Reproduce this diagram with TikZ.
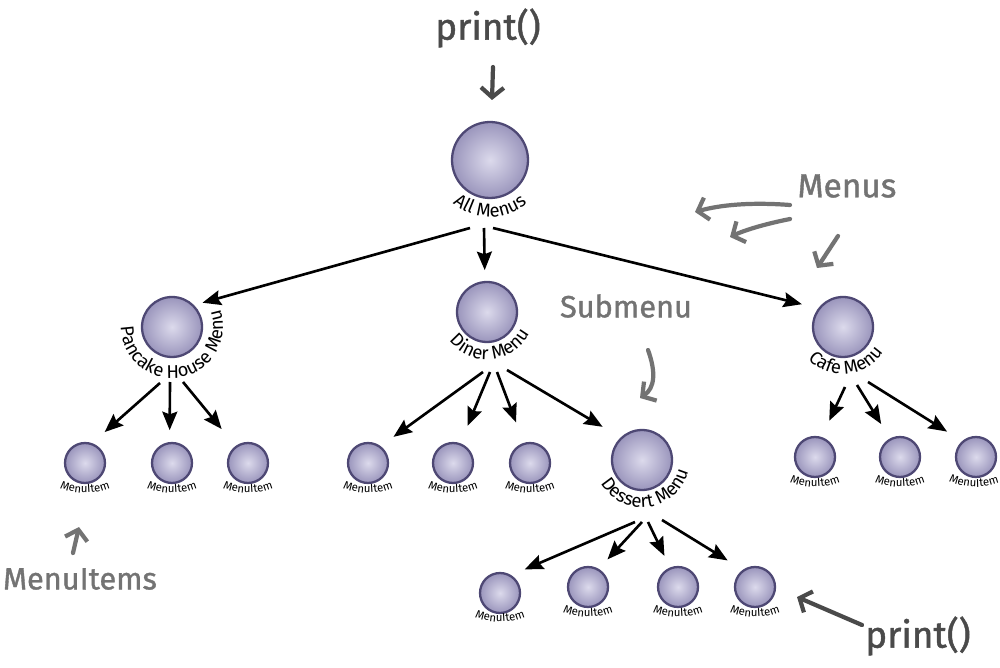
\documentclass[tikz,border=0pt]{standalone}
\usepackage{fontspec}
\setmainfont{Fira Sans}
\newfontfamily\annofont[FakeBold=1.2]{Fira Sans}
\usetikzlibrary{arrows.meta,calc,decorations.text}
\definecolor{ballin}{HTML}{DCDAEC}
\definecolor{ballout}{HTML}{9A95BC}
\definecolor{ballrim}{HTML}{4E4874}
\definecolor{anno}{HTML}{737373}
\definecolor{annodark}{HTML}{4A4A4A}
\tikzset{
 menuball/.style={circle, inner sep=0pt, outer sep=0pt, minimum size=#1, inner color=ballin, outer color=ballout, draw=ballrim, line width=1.3pt},
 bigball/.style={menuball=1.52cm},
 midball/.style={menuball=1.2cm},
 itemball/.style={menuball=0.8cm},
 link/.style={line width=1.5pt, -{Stealth[length=10.5pt,width=8.5pt,inset=1.5pt]}},
 note/.style={text=anno, inner sep=0pt},
 callout/.style={draw=anno, line width=2.4pt, line cap=round, -{Straight Barb[length=5.5pt,width=13pt]}},
}
% curved label: node, centre offset (up), radius, start angle, end angle, font, text
\newcommand\clab[7]{\path[decorate,decoration={text along path,text align=center,text={|#6|#7}}] ($(#1)+(0,#2)$) ++(#4:#3) arc[start angle=#4,end angle=#5,radius=#3];}
\newcommand\menufont{\fontsize{10.5}{12}\selectfont}
\newcommand\itemfont{\fontsize{6.5}{8}\selectfont}
\begin{document}
\begin{tikzpicture}[x=0.02cm,y=-0.02cm]
\fill[white] (0,0) rectangle (1000,668);
\useasboundingbox (0,0) rectangle (1000,668);

% menu nodes
\node[bigball] (all) at (490,160) {};
\node[midball] (pancake) at (172,327) {};
\node[midball] (diner) at (487,312) {};
\node[midball] (cafe) at (843,327) {};
\node[midball] (dessert) at (642,460) {};
% menu items
\node[itemball] (p1) at (85,463) {};
\node[itemball] (p2) at (172,463) {};
\node[itemball] (p3) at (248,463) {};
\node[itemball] (d1) at (368,463) {};
\node[itemball] (d2) at (453,463) {};
\node[itemball] (d3) at (530,463) {};
\node[itemball] (c1) at (815,457) {};
\node[itemball] (c2) at (900,457) {};
\node[itemball] (c3) at (976,457) {};
\node[itemball] (s1) at (500,593) {};
\node[itemball] (s2) at (588,587) {};
\node[itemball] (s3) at (678,587) {};
\node[itemball] (s4) at (755,587) {};

% curved labels
\clab{all}{0cm}{1.14cm}{215}{325}{\menufont}{All Menus}
\clab{pancake}{0cm}{1.02cm}{175}{385}{\menufont}{Pancake House Menu}
\clab{diner}{0cm}{0.95cm}{195}{355}{\menufont}{Diner Menu}
\clab{cafe}{0cm}{0.95cm}{195}{355}{\menufont}{Cafe Menu}
\clab{dessert}{0cm}{0.95cm}{190}{366}{\menufont}{Dessert Menu}
\foreach \n in {p1,p2,p3,d1,d2,d3,c1,c2,s2,s3,s4}{\clab{\n}{0.7cm}{1.3cm}{230}{310}{\itemfont}{MenuItem}}
\clab{c3}{0.7cm}{1.3cm}{228}{308}{\itemfont}{MenuItem}
\clab{s1}{0.72cm}{1.3cm}{230}{310}{\itemfont}{MenuItem}

% connector start points
\coordinate (all-a) at (470,228);
\coordinate (all-b) at (484,228);
\coordinate (all-c) at (493,228);
\coordinate (pan-a) at (160,383);
\coordinate (pan-b) at (170,382);
\coordinate (pan-c) at (183,382);
\coordinate (din-a) at (483,372);
\coordinate (din-b) at (490,372);
\coordinate (din-c) at (497,372);
\coordinate (din-d) at (507,370);
\coordinate (caf-a) at (845,387);
\coordinate (caf-b) at (857,385);
\coordinate (caf-c) at (868,382);
\coordinate (des-a) at (635,522);
\coordinate (des-b) at (642,522);
\coordinate (des-c) at (648,522);
\coordinate (des-d) at (662,520);

\draw[link, shorten >=0.2cm] (all-a) -- (pancake.46);
\draw[link, shorten >=0.24cm] (all-b) -- (diner.94);
\draw[link, shorten >=0.36cm] (all-c) -- (cafe.142);
\draw[link, shorten >=0.36cm] (pan-a) -- (p1.72);
\draw[link, shorten >=0.26cm] (pan-b) -- (p2.97);
\draw[link, shorten >=0.46cm] (pan-c) -- (p3.126);
\draw[link, shorten >=0.34cm] (din-a) -- (d1.54);
\draw[link, shorten >=0.40cm] (din-b) -- (d2.70);
\draw[link, shorten >=0.46cm] (din-c) -- (d3.107);
\draw[link, shorten >=0.44cm] (din-d) -- (dessert.133);
\draw[link, shorten >=0.38cm] (caf-a) -- (c1.72);
\draw[link, shorten >=0.36cm] (caf-b) -- (c2.118);
\draw[link, shorten >=0.38cm] (caf-c) -- (c3.130);
\draw[link, shorten >=0.32cm] (des-a) -- (s1.60);
\draw[link, shorten >=0.28cm] (des-b) -- (s2.60);
\draw[link, shorten >=0.28cm] (des-c) -- (s3.112);
\draw[link, shorten >=0.38cm] (des-d) -- (s4.124);

% annotations
\node[note, text=annodark, font=\annofont\fontsize{21}{24}\selectfont] (printtop) at (488,28) {print()};
\node[note, font=\annofont\fontsize{19}{22}\selectfont] (menus) at (847,186) {Menus};
\node[note, font=\annofont\fontsize{17.5}{20}\selectfont] (submenu) at (626,306) {Submenu};
\node[note, font=\annofont\fontsize{17.5}{20}\selectfont] (menuitems) at (80,579) {MenuItems};
\node[note, text=annodark, font=\annofont\fontsize{21}{24}\selectfont] (printbot) at (918,636) {print()};

\coordinate (pt-s) at (493,67);
\coordinate (pt-e) at (492,100);
\coordinate (m1-s) at (790,205);
\coordinate (m1-e) at (695,212);
\coordinate (m2-s) at (790,219);
\coordinate (m2-e) at (730,237);
\coordinate (m3-s) at (838,236);
\coordinate (m3-e) at (817,268);
\coordinate (sb-s) at (648,350);
\coordinate (sb-e) at (640,398);
\coordinate (mi-s) at (73,553);
\coordinate (mi-e) at (79,527);
\coordinate (pb-s) at (862,625);
\coordinate (pb-e) at (797,597);

\draw[callout, draw=annodark] (pt-s) -- (pt-e);
\draw[callout] (m1-s) .. controls (750,202) and (720,205) .. (m1-e);
\draw[callout] (m2-s) .. controls (765,224) and (745,230) .. (m2-e);
\draw[callout] (m3-s) -- (m3-e);
\draw[callout] (sb-s) .. controls (656,372) and (655,388) .. (sb-e);
\draw[callout] (mi-s) -- (mi-e);
\draw[callout, draw=annodark] (pb-s) -- (pb-e);
\end{tikzpicture}
\end{document}
